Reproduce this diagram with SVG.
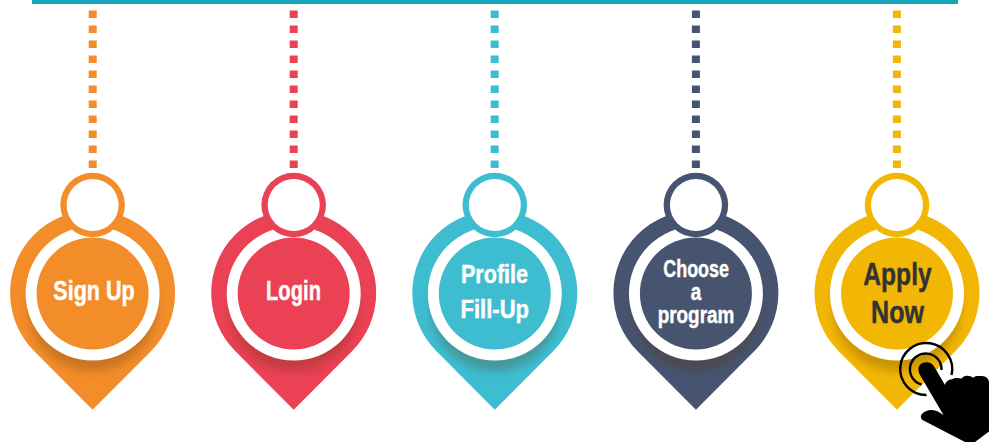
<svg xmlns="http://www.w3.org/2000/svg" width="989" height="442" viewBox="0 0 989 442">
<style>
.orange{color:#f28d2a}.red{color:#ea4155}.teal{color:#3ebdd1}.navy{color:#465470}.yellow{color:#f2b705}
.dash{fill:none;stroke:currentColor;stroke-width:8;stroke-dasharray:7.6 7.4}
text{font-family:"Liberation Sans",Arial,sans-serif;font-weight:700;fill:#fff;stroke:#fff;stroke-width:.45;text-anchor:start}
.dark{fill:#333;stroke:#333}
.arc{fill:none;stroke:#000;stroke-width:2.4}
</style>
<defs>
<path id="pinShape" d="M-58.3 58.3A82.5 82.5 0 1 1 58.3 58.3L0 116.7Z"/>
<clipPath id="pinClip"><use href="#pinShape"/></clipPath>
<filter id="soft" x="-30%" y="-30%" width="160%" height="160%"><feGaussianBlur stdDeviation="4.5"/></filter>
<g id="pin">
<use href="#pinShape" fill="currentColor"/>
<g clip-path="url(#pinClip)"><circle cy="14" r="64" fill="#5a3000" opacity=".26" filter="url(#soft)"/></g>
<circle cy="0.5" r="67" fill="#fff"/>
<circle cy="0.5" r="56" fill="currentColor"/>
<circle cy="-88" r="32.3" fill="currentColor"/>
<circle cy="-88" r="26" fill="#fff"/>
</g>
</defs>
<rect x="32" y="0" width="926" height="4" fill="#16a6b9"/>
<g id="connectors">
<path class="dash orange" d="M92.7 10.5V168"/>
<path class="dash red" d="M293.7 10.5V168"/>
<path class="dash teal" d="M494.7 10.5V168"/>
<path class="dash navy" d="M695.9 10.5V168"/>
<path class="dash yellow" d="M896.9 10.5V168"/>
</g>
<g id="node-sign-up" class="orange">
<use href="#pin" transform="translate(92.6 293)"/>
<text x="53.3" y="300" font-size="27" textLength="81.5" lengthAdjust="spacingAndGlyphs">Sign Up</text>
</g>
<g id="node-login" class="red">
<use href="#pin" transform="translate(293.7 293)"/>
<text x="266" y="300" font-size="27" textLength="55" lengthAdjust="spacingAndGlyphs">Login</text>
</g>
<g id="node-profile" class="teal">
<use href="#pin" transform="translate(494.8 293)"/>
<text x="461" y="282.7" font-size="26" textLength="67" lengthAdjust="spacingAndGlyphs">Profile</text>
<text x="460.5" y="318.3" font-size="26" textLength="68.5" lengthAdjust="spacingAndGlyphs">Fill-Up</text>
</g>
<g id="node-choose" class="navy">
<use href="#pin" transform="translate(695.9 293)"/>
<text x="663.3" y="277" font-size="24" textLength="65.7" lengthAdjust="spacingAndGlyphs">Choose</text>
<text x="690.7" y="300" font-size="24" textLength="10.5" lengthAdjust="spacingAndGlyphs">a</text>
<text x="657.7" y="322.7" font-size="24" textLength="76.6" lengthAdjust="spacingAndGlyphs">program</text>
</g>
<g id="node-apply" class="yellow">
<use href="#pin" transform="translate(897 293)"/>
<text class="dark" x="863.3" y="285" font-size="31.5" textLength="68.4" lengthAdjust="spacingAndGlyphs">Apply</text>
<text class="dark" x="871" y="323.3" font-size="31.5" textLength="53" lengthAdjust="spacingAndGlyphs">Now</text>
</g>
<g id="hand-cursor">
<path class="arc" d="M951.5 375A26 26 0 1 0 926.5 395"/>
<path class="arc" d="M941.5 370A15.8 15.8 0 1 0 921.5 384.5"/>
<path fill="#000" d="M920 375C916 367 920 362 927.3 362.3C931 362.5 933.5 365 935 368L945 385C946 381 949 379.5 951 379.5C953.5 378 957 377.5 961.7 378.5C963 376.5 965 375.5 967.3 375.7C969.5 375.8 971.5 376.5 973.3 377.7C975 376 977 375.8 978.5 376C981 375.8 984 375.8 985.5 376.8C988 378.5 989 380.5 989 382V431.5L975 442H965L922.5 420C920.5 418.5 920.5 416 921.5 414.5C923.5 411.5 927.5 410 931.7 410C936 410 940 412.5 943.5 415Z"/>
</g>
</svg>
